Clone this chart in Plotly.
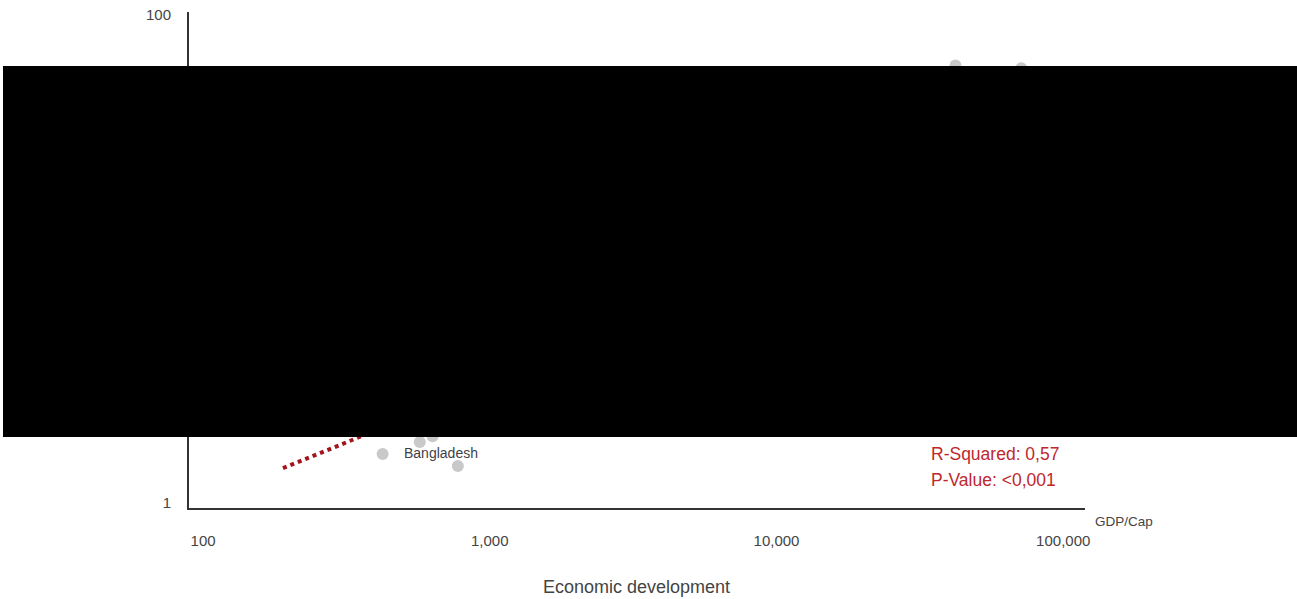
import math
import plotly.graph_objects as go

# Country observations: GDP per capita vs. indicator value (log-log)
gdp_per_cap = [423, 570, 632, 774, 42100, 71400]
indicator = [1.59, 1.78, 1.88, 1.42, 62.0, 60.5]
country_names = ["Bangladesh", "", "", "", "", ""]

# Fitted power-law trend line endpoints
trend_x = [190, 100000]
trend_y = [1.39, 28.0]

x_ticks = [100, 1000, 10000, 100000]
x_tick_text = ["100", "1,000", "10,000", "100,000"]
y_ticks = [1, 10, 100]
y_tick_text = ["1", "10", "100"]

stats_lines = ["R-Squared: 0,57", "P-Value: <0,001"]

W, H = 1297, 599
L, R, T, B = 189, 212, 12, 91
plot_w = W - L - R
plot_h = H - T - B

LABEL_FONT = "Liberation Sans Narrow, Liberation Sans, sans-serif"

fig = go.Figure()

fig.add_trace(go.Scatter(
    x=trend_x, y=trend_y, mode="lines",
    line=dict(color="#a3141c", width=4, dash="dot"),
    hoverinfo="skip", showlegend=False,
))

fig.add_trace(go.Scatter(
    x=gdp_per_cap, y=indicator, mode="markers",
    marker=dict(color="#c9c9c9", size=12, line=dict(width=0)),
    text=country_names, hoverinfo="text", showlegend=False,
))

annotations = []
for xv, yv, name in zip(gdp_per_cap, indicator, country_names):
    if name:
        # annotation positions on log axes are given in log10 units
        annotations.append(dict(
            x=math.log10(xv), y=math.log10(yv), xref="x", yref="y",
            text=name, showarrow=False,
            xanchor="left", yanchor="middle", xshift=19, yshift=1,
            font=dict(family=LABEL_FONT, size=14, color="#3f3f48"),
        ))

# Regression statistics
for i, line in enumerate(stats_lines):
    annotations.append(dict(
        x=(929 - L) / plot_w, y=(H - B - (454 + 26 * i)) / plot_h,
        xref="paper", yref="paper", text=line, showarrow=False,
        xanchor="left", yanchor="middle",
        font=dict(family=LABEL_FONT, size=17.5, color="#c0272d"),
    ))

# Axis captions
annotations.append(dict(
    x=(1093 - L) / plot_w, y=(H - B - 521) / plot_h, xref="paper", yref="paper",
    text="GDP/Cap", showarrow=False, xanchor="left", yanchor="middle",
    font=dict(family=LABEL_FONT, size=13.5, color="#444444"),
))
annotations.append(dict(
    x=(636 - L) / plot_w, y=(H - B - 587) / plot_h, xref="paper", yref="paper",
    text="Economic development", showarrow=False, xanchor="center", yanchor="middle",
    font=dict(family=LABEL_FONT, size=18, color="#444444"),
))

fig.update_layout(
    width=W, height=H,
    margin=dict(l=L, r=R, t=T, b=B, autoexpand=False),
    paper_bgcolor="white", plot_bgcolor="white",
    annotations=annotations,
    shapes=[dict(
        type="rect", xref="paper", yref="paper", layer="above",
        x0=(3 - L) / plot_w, x1=(W - L) / plot_w,
        y0=(H - B - 437) / plot_h, y1=(H - B - 66) / plot_h,
        fillcolor="black", line=dict(width=0),
    )],
)

fig.update_xaxes(
    type="log", range=[1.951, 5.076], automargin=False,
    tickvals=x_ticks, ticktext=x_tick_text, ticks="",
    showgrid=False, zeroline=False,
    showline=True, linecolor="#333333", linewidth=2,
    ticklabelstandoff=18,
    tickfont=dict(family="Liberation Sans, sans-serif", size=15, color="#444444"),
)
fig.update_yaxes(
    type="log", range=[-0.02, 2.012], automargin=False,
    tickvals=y_ticks, ticktext=y_tick_text, ticks="",
    showgrid=False, zeroline=False,
    showline=True, linecolor="#333333", linewidth=2,
    ticklabelstandoff=13,
    tickfont=dict(family="Liberation Sans, sans-serif", size=15, color="#444444"),
)

fig.write_html("out.html")
